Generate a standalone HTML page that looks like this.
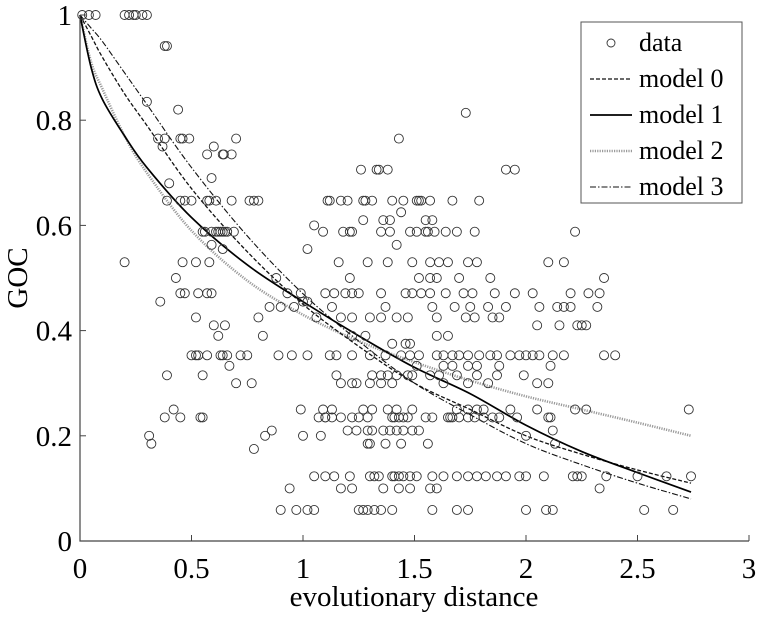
<!DOCTYPE html>
<html><head><meta charset="utf-8"><style>
html,body{margin:0;padding:0;background:#fff;}
svg, svg text{font-family:"Liberation Serif","Times New Roman","DejaVu Serif",serif;}
</style></head><body>
<svg id="chart" width="760" height="614" xmlns="http://www.w3.org/2000/svg">
<g id="curves"></g>
<g id="pts"></g>
<g id="axes"></g>
<g id="legend"></g>
</svg>
<script>
const xTicks=[0,0.5,1,1.5,2,2.5,3];
const xTickLabels=["0","0.5","1","1.5","2","2.5","3"];
const yTicks=[0,0.2,0.4,0.6,0.8,1];
const yTickLabels=["0","0.2","0.4","0.6","0.8","1"];
const curveX=[0,0.05,0.1,0.2,0.3,0.5,0.75,1,1.25,1.5,1.75,2,2.25,2.5,2.74];
const model0=[1,0.96,0.92,0.85,0.79,0.67,0.55,0.45,0.37,0.30,0.25,0.20,0.165,0.135,0.11];
const model1=[1,0.90,0.84,0.77,0.71,0.615,0.525,0.455,0.39,0.33,0.28,0.22,0.17,0.13,0.093];
const model2=[1,0.91,0.86,0.77,0.70,0.59,0.495,0.43,0.38,0.34,0.305,0.275,0.25,0.225,0.20];
const model3=[1,0.975,0.95,0.89,0.83,0.71,0.58,0.47,0.38,0.30,0.24,0.185,0.145,0.11,0.08];
const rowY=[1,0.941,0.835,0.82,0.814,0.765,0.75,0.735,0.706,0.69,0.68,0.647,0.625,0.61,0.6,0.588,0.563,0.555,0.53,0.5,0.471,0.455,0.445,0.425,0.41,0.39,0.375,0.353,0.333,0.315,0.3,0.25,0.235,0.21,0.2,0.185,0.175,0.123,0.1,0.059];
const rowX=[
[0.01,0.04,0.07,0.2,0.22,0.24,0.25,0.28,0.3],
[0.38,0.39],
[0.3],
[0.44],
[1.73],
[0.35,0.38,0.45,0.46,0.49,0.7,1.43],
[0.37,0.6],
[0.57,0.64,0.645,0.68],
[1.26,1.33,1.34,1.38,1.91,1.95],
[0.59],
[0.4],
[0.39,0.45,0.47,0.5,0.57,0.58,0.61,0.68,0.76,0.78,0.8,1.11,1.12,1.17,1.2,1.27,1.28,1.31,1.4,1.45,1.51,1.52,1.53,1.57,1.67,1.79],
[1.44],
[1.27,1.36,1.39,1.55,1.58],
[1.05],
[0.55,0.56,0.59,0.61,0.62,0.63,0.64,0.65,0.66,0.69,1.09,1.18,1.21,1.22,1.35,1.39,1.48,1.51,1.55,1.56,1.59,1.64,1.69,1.77,2.22],
[1.42,0.59],
[0.64,1.02],
[0.2,0.46,0.52,0.58,1.16,1.29,1.38,1.49,1.57,1.61,1.65,1.74,1.78,2.17,2.1],
[0.43,0.88,1.21,1.52,1.57,1.6,1.7,1.84,2.35],
[0.45,0.47,0.53,0.57,0.59,0.93,0.99,1.1,1.14,1.19,1.22,1.25,1.35,1.46,1.49,1.53,1.57,1.64,1.72,1.76,1.86,1.95,2.03,2.2,2.28,2.33],
[0.36,1.0,1.02],
[0.85,0.9,0.96,1.13,1.37,1.58,1.68,1.75,1.83,1.91,2.06,2.14,2.17,2.32,2.2],
[0.52,0.8,1.06,1.17,1.22,1.3,1.35,1.42,1.47,1.6,1.73,1.77,1.85,1.88],
[0.6,0.65,2.05,2.15,2.23,2.25,2.27],
[0.62,0.82,1.22,1.28,1.6,1.65],
[1.4,1.46,1.48],
[0.5,0.52,0.53,0.57,0.63,0.64,0.66,0.72,0.75,0.89,0.95,1.02,1.12,1.15,1.22,1.3,1.37,1.44,1.48,1.52,1.6,1.63,1.67,1.7,1.74,1.79,1.84,1.87,1.93,1.97,2.0,2.03,2.06,2.12,2.17,2.35,2.4],
[0.67,1.51,1.63,1.67,1.74,1.78,1.88,2.11],
[0.39,0.55,1.15,1.31,1.35,1.38,1.42,1.47,1.49,1.57,1.61,1.69,1.78,1.87,1.99],
[0.7,0.77,1.17,1.22,1.24,1.3,1.35,1.4,1.63,1.74,1.83,2.05,2.1],
[0.42,0.99,1.09,1.13,1.27,1.31,1.38,1.42,1.49,1.69,1.74,1.78,1.81,1.93,2.05,2.22,2.27,2.73],
[0.38,0.45,0.54,0.55,1.07,1.1,1.1,1.13,1.17,1.22,1.25,1.29,1.4,1.41,1.43,1.45,1.47,1.55,1.58,1.65,1.66,1.67,1.7,1.74,1.77,1.81,1.85,1.88,1.96,2.11,2.1],
[0.86,1.2,1.24,1.29,1.31,1.36,1.39,1.42,1.45,1.49,1.52,2.12],
[0.31,0.83,1.0,1.08,2.0],
[1.29,1.3,1.37,1.44,1.56,2.13,0.32],
[0.78],
[1.05,1.1,1.14,1.21,1.3,1.32,1.34,1.4,1.41,1.43,1.45,1.48,1.51,1.58,1.63,1.69,1.74,1.78,1.82,1.87,1.91,1.97,2.0,2.08,2.21,2.23,2.25,2.36,2.5,2.63,2.74],
[0.94,1.17,1.22,1.36,1.43,1.48,1.57,1.6,2.33],
[0.9,0.97,1.02,1.05,1.25,1.27,1.29,1.32,1.35,1.4,1.58,1.69,1.74,2.0,2.09,2.12,2.53,2.66]
];
const X0=80,X1=749,Y0=541,Y1=15;
const sx=v=>X0+(v-0)/(3-0)*(X1-X0);
const sy=v=>Y0-(v-0)/(1-0)*(Y0-Y1);
const NS="http://www.w3.org/2000/svg";
const FONT="'Liberation Serif','Times New Roman','DejaVu Serif',serif";
function mk(tag,attrs,parent,txt){const e=document.createElementNS(NS,tag);for(const k in attrs)e.setAttribute(k,attrs[k]);if(txt!==undefined)e.textContent=txt;parent.appendChild(e);return e;}
const pg=document.getElementById('pts');
rowY.forEach((y,i)=>{rowX[i].forEach(x=>{
 const c=mk('circle',{cx:sx(x),cy:sy(y),r:4.5,fill:'none',stroke:'#333','stroke-width':0.9},pg);
 
 
});});
function pathFor(ys){
 const p=curveX.map((x,i)=>[sx(x),sy(ys[i])]);
 let d='M'+p[0][0]+','+p[0][1];
 for(let i=0;i<p.length-1;i++){
  const p0=p[Math.max(0,i-1)],p1=p[i],p2=p[i+1],p3=p[Math.min(p.length-1,i+2)];
  const c1x=p1[0]+(p2[0]-p0[0])/6,c1y=p1[1]+(p2[1]-p0[1])/6;
  const c2x=p2[0]-(p3[0]-p1[0])/6,c2y=p2[1]-(p3[1]-p1[1])/6;
  d+=` C${c1x},${c1y} ${c2x},${c2y} ${p2[0]},${p2[1]}`;
 }
 return d;
}
const styles=[
 {ys:model2,stroke:'#9a9a9a',w:2.6,dash:'1.2,1.2',name:'model-2-curve'},
 {ys:model0,stroke:'#111',w:1.3,dash:'4,2',name:'model-0-curve'},
 {ys:model3,stroke:'#111',w:1.1,dash:'6,2,1.5,2',name:'model-3-curve'},
 {ys:model1,stroke:'#000',w:1.7,dash:'',name:'model-1-curve'}
];
const cg=document.getElementById('curves');
styles.forEach(s=>{
 const e=mk('path',{d:pathFor(s.ys),fill:'none',stroke:s.stroke,'stroke-width':s.w,'stroke-dasharray':s.dash},cg);
 
 
});
const ag=document.getElementById('axes');
mk('path',{d:`M${X0},${Y1} L${X0},${Y0} L${X1},${Y0}`,fill:'none',stroke:'#444','stroke-width':1.2},ag);
xTicks.forEach((t,i)=>{
 mk('line',{x1:sx(t),x2:sx(t),y1:Y0,y2:Y0-6,stroke:'#444','stroke-width':1},ag);
 const e=mk('text',{x:sx(t),y:578,'text-anchor':'middle','font-size':29,'font-family':FONT},ag,xTickLabels[i]);
 
 
});
yTicks.forEach((t,i)=>{
 mk('line',{x1:X0,x2:X0+6,y1:sy(t),y2:sy(t),stroke:'#444','stroke-width':1},ag);
 const e=mk('text',{x:72,y:sy(t)+10,'text-anchor':'end','font-size':29,'font-family':FONT},ag,yTickLabels[i]);
 
 
});
const xt=mk('text',{x:414,y:606,'text-anchor':'middle','font-size':29,'font-family':FONT},ag,'evolutionary distance');


const yt=mk('text',{x:0,y:0,'text-anchor':'middle','font-size':29,'font-family':FONT,transform:'translate(27,278) rotate(-90)'},ag,'GOC');


const lg=document.getElementById('legend');
mk('rect',{x:581,y:22,width:161,height:181,fill:'#fff',stroke:'#555','stroke-width':1},lg);
const labels=['data','model 0','model 1','model 2','model 3'];
const lstyles=[null,styles[1],styles[3],styles[0],styles[2]];
labels.forEach((l,i)=>{
 const y=43+i*36;
 if(i===0){mk('circle',{cx:611,cy:y,r:4,fill:'none',stroke:'#333','stroke-width':0.9},lg);}
 else{const s=lstyles[i];mk('line',{x1:590,x2:632,y1:y,y2:y,stroke:s.stroke,'stroke-width':s.w,'stroke-dasharray':s.dash},lg);}
 const e=mk('text',{x:639,y:y+8,'font-size':26,'font-family':FONT},lg,l);
 
 
});
</script>
</body></html>
